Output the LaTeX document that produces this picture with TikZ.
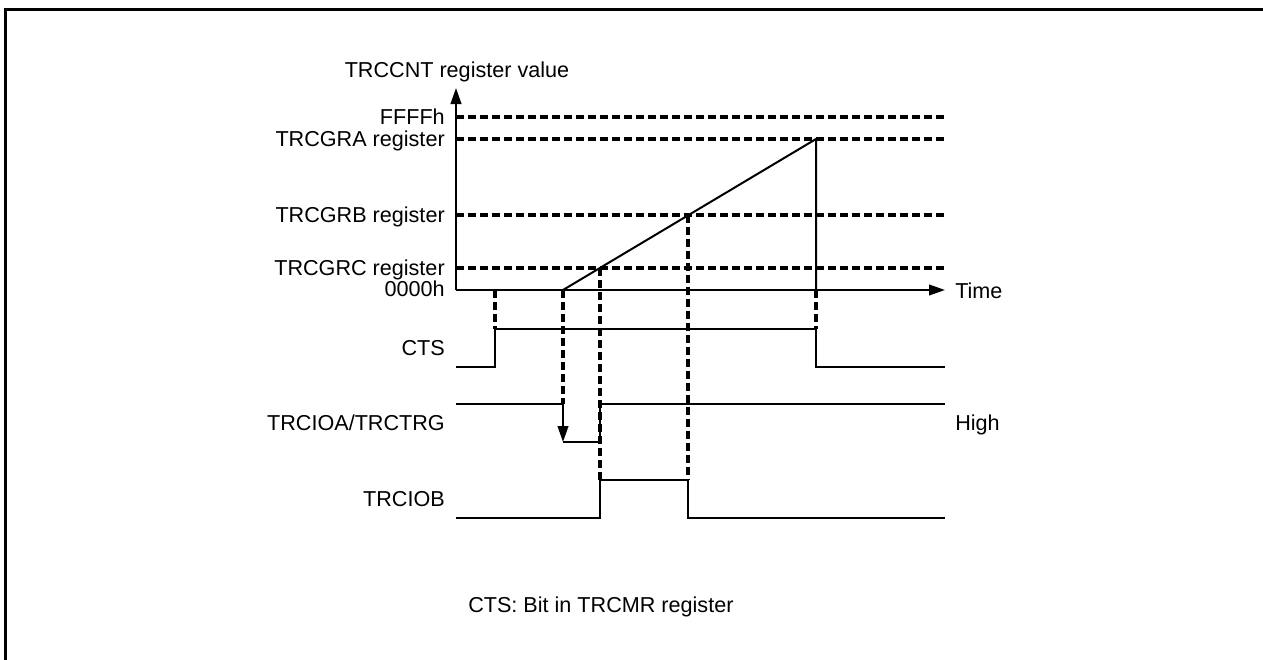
\documentclass[tikz,border=0pt]{standalone}
\usepackage{fontspec}
\setmainfont{Liberation Sans}
\usetikzlibrary{arrows.meta}
\begin{document}
\begin{tikzpicture}[x=0.75pt,y=-0.75pt,
  sig/.style={line width=1.5pt},
  dsh/.style={line width=2.4pt, dash pattern=on 6pt off 3pt},
  lbl/.style={font=\fontsize{16.2}{19}\selectfont, inner sep=0pt},
  tip/.style={-{Triangle[length=12pt,width=8pt]}}]
\useasboundingbox (0,0) rectangle (1263,660);
% frame
\draw[line width=2.4pt] (5.5,660) -- (5.5,9.5) -- (1263,9.5);
% coordinates
\coordinate (O) at (456,290);
\coordinate (Ytop) at (456,88);
\coordinate (Tend) at (945,290);
\foreach \n/\y in {F/117,A/139,B/215,C/268}{
  \coordinate (\n0) at (456,\y);
  \coordinate (\n1) at (945,\y);
}
\coordinate (R0) at (563,290);
\coordinate (RC) at (600,268);
\coordinate (RB) at (688,215);
\coordinate (RA) at (816,139);
\coordinate (RAb) at (816,290);
% CTS
\coordinate (c0) at (456,367);
\coordinate (c1) at (495,367);
\coordinate (c2) at (495,329);
\coordinate (c3) at (816,329);
\coordinate (c4) at (816,367);
\coordinate (c5) at (945,367);
\coordinate (cx) at (495,290);
% TRCIOA
\coordinate (a0) at (456,404);
\coordinate (a1) at (563,404);
\coordinate (a2) at (563,442);
\coordinate (a3) at (600,442);
\coordinate (a4) at (600,404);
\coordinate (a5) at (945,404);
% TRCIOB
\coordinate (b0) at (456,518);
\coordinate (b1) at (600,518);
\coordinate (b2) at (600,480);
\coordinate (b3) at (688,480);
\coordinate (b4) at (688,518);
\coordinate (b5) at (945,518);
% dashed register levels
\foreach \n in {F,A,B,C}{ \draw[dsh] (\n0) -- (\n1); }
% axes
\draw[sig, tip] (O) -- (Ytop);
\draw[sig, tip] (O) -- (Tend);
% ramp
\draw[sig] (R0) -- (RA) -- (RAb);
% dashed verticals
\draw[dsh] (RAb) -- (c3);
\draw[dsh] (cx) -- (c2);
\draw[dsh] (R0) -- (a1);
\draw[dsh] (RC) -- (b2);
\draw[dsh] (RB) -- (b3);
% signals
\draw[sig] (c0) -- (c1) -- (c2) -- (c3) -- (c4) -- (c5);
\draw[sig] (a0) -- (a1);
\draw[sig, tip] (a1) -- (a2);
\draw[sig] (a2) -- (a3) -- (a4) -- (a5);
\draw[sig] (b0) -- (b1) -- (b2) -- (b3) -- (b4) -- (b5);
% labels
\node[lbl] (ttl) at (457,72) {TRCCNT register value};
\node[lbl, anchor=base east] (lF) at (445,124.5) {FFFFh};
\node[lbl, anchor=base east] (lA) at (445,146.5) {TRCGRA register};
\node[lbl, anchor=base east] (lB) at (445,222.5) {TRCGRB register};
\node[lbl, anchor=base east] (lC) at (445,275.5) {TRCGRC register};
\node[lbl, anchor=base east] (l0) at (445,296.5) {0000h};
\node[lbl, anchor=base west] (lT) at (955,298.5) {Time};
\node[lbl, anchor=base east] (lCTS) at (445,355.5) {CTS};
\node[lbl, anchor=base east] (lIOA) at (445,430.5) {TRCIOA/TRCTRG};
\node[lbl, anchor=base west] (lH) at (955,430.5) {High};
\node[lbl, anchor=base east] (lIOB) at (445,506.5) {TRCIOB};
\node[lbl, anchor=base west] (note) at (468,612.5) {CTS: Bit in TRCMR register};
\end{tikzpicture}
\end{document}
